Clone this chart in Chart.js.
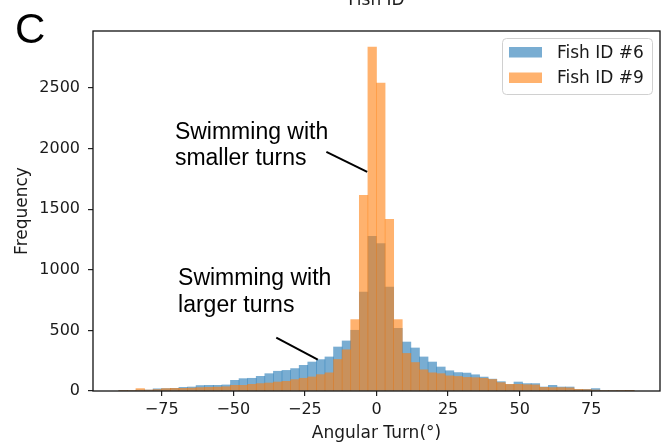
<!DOCTYPE html>
<html><head><meta charset="utf-8">
<script src="https://cdn.jsdelivr.net/npm/chart.js@4.4.1/dist/chart.umd.min.js"></script>
<style>html,body{margin:0;padding:0;background:#fff;}#wrap{position:relative;width:672px;height:442px;}</style>
</head><body><div id="wrap"><canvas id="c" width="672" height="442"></canvas></div>
<script>
// Histogram bin centres (degrees, 3-degree bins from -90 to 90)
const binCenters = [-88.5,-85.5,-82.5,-79.5,-76.5,-73.5,-70.5,-67.5,-64.5,-61.5,
  -58.5,-55.5,-52.5,-49.5,-46.5,-43.5,-40.5,-37.5,-34.5,-31.5,
  -28.5,-25.5,-22.5,-19.5,-16.5,-13.5,-10.5,-7.5,-4.5,-1.5,
  1.5,4.5,7.5,10.5,13.5,16.5,19.5,22.5,25.5,28.5,
  31.5,34.5,37.5,40.5,43.5,46.5,49.5,52.5,55.5,58.5,
  61.5,64.5,67.5,70.5,73.5,76.5,79.5,82.5,85.5,88.5];
const fish6Counts = [4,5,8,8,18,20,22,30,33,45,
  47,47,50,88,102,105,121,143,163,170,
  185,212,239,259,281,363,413,501,817,1276,
  1216,858,517,404,355,281,239,198,167,152,
  148,134,115,98,77,54,74,61,61,33,
  47,33,33,14,14,20,5,5,5,4];
const fish9Counts = [4,5,20,8,12,20,22,22,24,28,
  30,32,35,47,47,55,61,66,74,80,
  94,105,116,135,150,260,340,589,1615,2838,
  2541,1417,589,310,235,175,150,143,125,120,
  112,110,105,95,69,55,55,52,50,30,
  28,28,26,14,12,8,5,5,4,3];
const seriesLabels = ['Fish ID #6', 'Fish ID #9'];
const xTicks = [-75, -50, -25, 0, 25, 50, 75];
const yTicks = [0, 500, 1000, 1500, 2000, 2500];
const annotationTexts = [['Swimming with', 'smaller turns'], ['Swimming with', 'larger turns']];
// [x, baseline value line1, baseline value line2] in data units
const annotationTextAt = [[-70.4, 2083, 1862], [-69.3, 872, 649]];
// pointer lines [x1, y1, x2, y2] in data units
const annotationPointers = [[-17.5, 1972, -3.25, 1807], [-35, 441, -20.5, 259]];

const COL6 = 'rgba(31,119,180,0.6)';
const COL9 = 'rgba(255,127,14,0.6)';
const TXT = '#1a1a1a';

const decorPlugin = {
  id: 'decor',
  afterDatasetsDraw(chart) {
    const ctx = chart.ctx, a = chart.chartArea;
    const xs = chart.scales.x, ys = chart.scales.y;
    ctx.save();
    // frame
    ctx.strokeStyle = '#111';
    ctx.lineWidth = 1.3;
    ctx.strokeRect(a.left, a.top, a.right - a.left, a.bottom - a.top);
    // annotations
    ctx.fillStyle = '#000';
    ctx.font = '23px "Liberation Sans", Arial, sans-serif';
    ctx.textAlign = 'left';
    ctx.textBaseline = 'alphabetic';
    annotationTexts.forEach((lines, i) => {
      const p = annotationTextAt[i];
      const x = xs.getPixelForValue(p[0]);
      lines.forEach((t, j) => ctx.fillText(t, x, ys.getPixelForValue(p[1 + j])));
    });
    ctx.strokeStyle = '#000';
    ctx.lineWidth = 2;
    annotationPointers.forEach(l => {
      ctx.beginPath();
      ctx.moveTo(xs.getPixelForValue(l[0]), ys.getPixelForValue(l[1]));
      ctx.lineTo(xs.getPixelForValue(l[2]), ys.getPixelForValue(l[3]));
      ctx.stroke();
    });
    // legend
    ctx.fillStyle = 'rgba(255,255,255,0.85)';
    ctx.strokeStyle = '#d0d0d0';
    ctx.lineWidth = 1;
    ctx.beginPath();
    ctx.roundRect(502.5, 38.5, 150, 56, 4);
    ctx.fill(); ctx.stroke();
    const sw = [COL6, COL9];
    ctx.font = '17px "DejaVu Sans", sans-serif';
    seriesLabels.forEach((lab, i) => {
      const yTop = 47 + i * 25.5;
      ctx.fillStyle = '#fff';
      ctx.fillRect(509, yTop, 33, 10.5);
      ctx.fillStyle = sw[i];
      ctx.fillRect(509, yTop, 33, 10.5);
      ctx.fillStyle = TXT;
      ctx.fillText(lab, 557, yTop + 10.5);
    });
    // panel letter and clipped title
    ctx.font = '42px "Liberation Sans", Arial, sans-serif';
    ctx.fillStyle = '#000';
    ctx.fillText('C', 15, 43);
    ctx.font = '17px "DejaVu Sans", sans-serif';
    ctx.textAlign = 'center';
    ctx.fillStyle = TXT;
    ctx.fillText('Fish ID', (a.left + a.right) / 2, 5);
    ctx.restore();
  }
};

const tickFont = {family: '"DejaVu Sans", sans-serif', size: 16};
const titleFont = {family: '"DejaVu Sans", sans-serif', size: 17, lineHeight: 1};

new Chart(document.getElementById('c'), {
  type: 'bar',
  data: {
    datasets: [
      {label: seriesLabels[0], data: binCenters.map((x, i) => ({x: x, y: fish6Counts[i]})),
       backgroundColor: COL6, borderWidth: 0, order: 2, barPercentage: 1, categoryPercentage: 1, grouped: false},
      {label: seriesLabels[1], data: binCenters.map((x, i) => ({x: x, y: fish9Counts[i]})),
       backgroundColor: COL9, borderWidth: 0, order: 1, barPercentage: 1, categoryPercentage: 1, grouped: false}
    ]
  },
  options: {
    responsive: false, animation: false, devicePixelRatio: 1,
    layout: {padding: {top: 31, right: 12, left: 0, bottom: 0}},
    plugins: {legend: {display: false}, tooltip: {enabled: false}},
    scales: {
      x: {
        type: 'linear', min: -99, max: 99, offset: false,
        grid: {drawOnChartArea: false, color: '#222', tickLength: 5, offset: false, lineWidth: 1.2},
        border: {display: false},
        afterBuildTicks: s => { s.ticks = xTicks.map(v => ({value: v})); },
        ticks: {font: tickFont, color: TXT, padding: 4, maxRotation: 0, autoSkip: false,
          callback: v => v < 0 ? '\u2212' + Math.abs(v) : String(v)},
        title: {display: true, text: 'Angular Turn(°)', font: titleFont, color: TXT, padding: {top: 0, bottom: 0}},
        afterFit: s => { s.height = 51; }
      },
      y: {
        type: 'linear', min: 0, max: 2970,
        grid: {drawOnChartArea: false, color: '#222', tickLength: 5, lineWidth: 1.2},
        border: {display: false},
        afterBuildTicks: s => { s.ticks = yTicks.map(v => ({value: v})); },
        ticks: {font: tickFont, color: TXT, padding: 8, autoSkip: false, callback: v => String(v)},
        title: {display: true, text: 'Frequency', font: titleFont, color: TXT, padding: {top: 14.5, bottom: 0}},
        afterFit: s => { s.width = 93; }
      }
    }
  },
  plugins: [decorPlugin]
});
</script></body></html>
